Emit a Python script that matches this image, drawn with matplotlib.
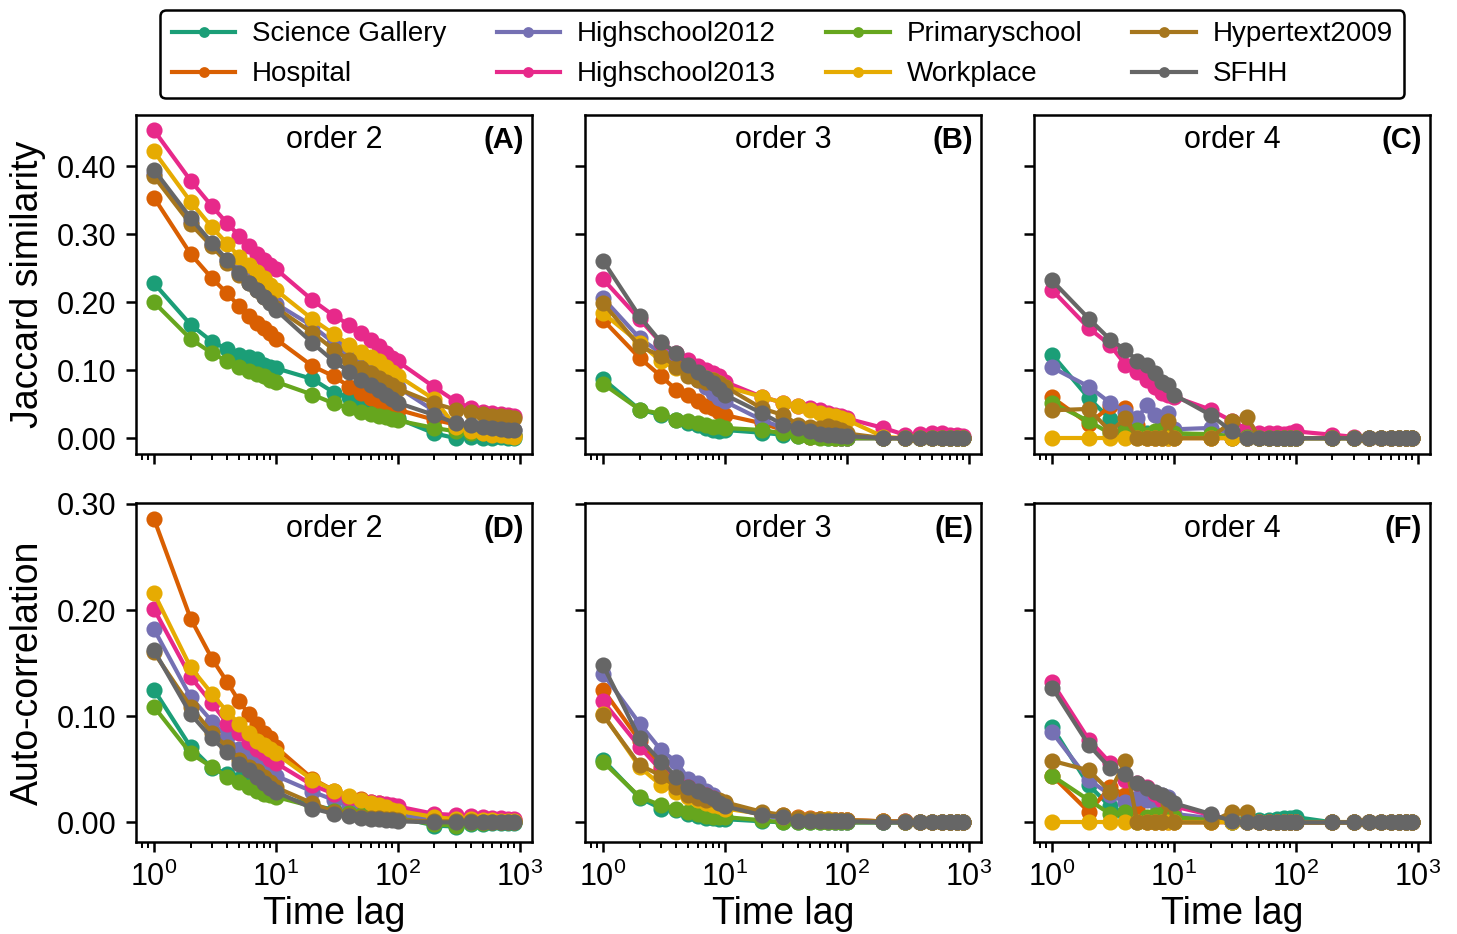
import matplotlib
matplotlib.use("Agg")
import matplotlib.pyplot as plt
from matplotlib.ticker import MultipleLocator, FormatStrFormatter

plt.rcParams['font.family'] = ['Liberation Sans', 'DejaVu Sans']
plt.rcParams['mathtext.fontset'] = 'custom'
plt.rcParams['mathtext.rm'] = 'Liberation Sans'
plt.rcParams['mathtext.it'] = 'Liberation Sans:italic'
plt.rcParams['mathtext.bf'] = 'Liberation Sans:bold'

# ---------------------------------------------------------------------------
# data
# ---------------------------------------------------------------------------
lags = [1, 2, 3, 4, 5, 6, 7, 8, 9, 10,
        20, 30, 40, 50, 60, 70, 80, 90, 100,
        200, 300, 400, 500, 600, 700, 800, 900]

names = ["Science Gallery", "Hospital", "Highschool2012", "Highschool2013",
         "Primaryschool", "Workplace", "Hypertext2009", "SFHH"]
colors = ['#1b9e77', '#d95f02', '#7570b3', '#e7298a',
          '#66a61e', '#e6ab02', '#a6761d', '#666666']

Z = [0.0] * 8  # tail of zeros (lags 200..900)

# Jaccard similarity, order 2
jac2 = {
    "Science Gallery": [0.228, 0.167, 0.142, 0.131, 0.123, 0.120, 0.116, 0.108, 0.105, 0.103,
                        0.087, 0.067, 0.060, 0.054, 0.049, 0.044, 0.039, 0.034, 0.029,
                        0.007, 0.000, 0.001, 0.000, 0.000, 0.001, 0.000, 0.000],
    "Hospital": [0.354, 0.271, 0.235, 0.213, 0.194, 0.179, 0.169, 0.162, 0.154, 0.146,
                 0.106, 0.091, 0.076, 0.066, 0.059, 0.054, 0.049, 0.046, 0.042,
                 0.027, 0.020, 0.015, 0.012, 0.010, 0.008, 0.006, 0.005],
    "Highschool2012": [0.388, 0.318, 0.284, 0.262, 0.246, 0.235, 0.225, 0.215, 0.205, 0.198,
                       0.165, 0.140, 0.122, 0.110, 0.101, 0.094, 0.087, 0.080, 0.075,
                       0.040, 0.022, 0.018, 0.016, 0.015, 0.014, 0.013, 0.012],
    "Highschool2013": [0.453, 0.379, 0.341, 0.316, 0.298, 0.283, 0.271, 0.262, 0.255, 0.249,
                       0.203, 0.180, 0.167, 0.155, 0.145, 0.135, 0.125, 0.118, 0.113,
                       0.075, 0.054, 0.044, 0.039, 0.037, 0.035, 0.034, 0.032],
    "Primaryschool": [0.200, 0.146, 0.125, 0.113, 0.105, 0.099, 0.094, 0.091, 0.086, 0.083,
                      0.064, 0.051, 0.044, 0.039, 0.036, 0.033, 0.031, 0.028, 0.026,
                      0.015, 0.010, 0.008, 0.007, 0.006, 0.006, 0.005, 0.005],
    "Workplace": [0.422, 0.348, 0.310, 0.286, 0.267, 0.255, 0.244, 0.235, 0.226, 0.218,
                  0.175, 0.153, 0.137, 0.127, 0.120, 0.113, 0.105, 0.098, 0.092,
                  0.057, 0.017, 0.010, 0.008, 0.005, 0.004, 0.003, 0.002],
    "Hypertext2009": [0.385, 0.315, 0.282, 0.258, 0.240, 0.228, 0.218, 0.208, 0.200, 0.192,
                      0.155, 0.130, 0.115, 0.103, 0.096, 0.088, 0.083, 0.078, 0.073,
                      0.051, 0.042, 0.039, 0.035, 0.033, 0.032, 0.031, 0.030],
    "SFHH": [0.395, 0.324, 0.287, 0.262, 0.243, 0.229, 0.218, 0.208, 0.199, 0.189,
             0.140, 0.113, 0.098, 0.086, 0.078, 0.071, 0.064, 0.057, 0.052,
             0.034, 0.022, 0.020, 0.017, 0.015, 0.013, 0.012, 0.012],
}

# Jaccard similarity, order 3
jac3 = {
    "Science Gallery": [0.087, 0.042, 0.034, 0.027, 0.022, 0.020, 0.015, 0.012, 0.011, 0.012,
                        0.008, 0.005, 0.003, 0.001, 0.001, 0.0, 0.0, 0.0, 0.0] + Z,
    "Hospital": [0.174, 0.118, 0.091, 0.071, 0.064, 0.054, 0.047, 0.044, 0.039, 0.034,
                 0.022, 0.012, 0.005, 0.002, 0.001, 0.001, 0.0, 0.0, 0.0] + Z,
    "Highschool2012": [0.206, 0.147, 0.125, 0.110, 0.096, 0.086, 0.076, 0.067, 0.059, 0.054,
                       0.027, 0.015, 0.007, 0.003, 0.002, 0.001, 0.001, 0.0, 0.0] + Z,
    "Highschool2013": [0.234, 0.175, 0.140, 0.125, 0.115, 0.106, 0.100, 0.096, 0.091, 0.083,
                       0.061, 0.052, 0.047, 0.044, 0.042, 0.037, 0.034, 0.032, 0.029,
                       0.015, 0.005, 0.006, 0.008, 0.007, 0.005, 0.004, 0.003],
    "Primaryschool": [0.080, 0.042, 0.036, 0.027, 0.025, 0.022, 0.020, 0.017, 0.018, 0.015,
                      0.012, 0.007, 0.003, 0.001, 0.0, 0.0, 0.0, 0.0, 0.0] + Z,
    "Workplace": [0.184, 0.140, 0.113, 0.103, 0.096, 0.091, 0.088, 0.086, 0.081, 0.076,
                  0.061, 0.052, 0.047, 0.042, 0.037, 0.034, 0.033, 0.029, 0.027,
                  0.002, 0.0, 0.0, 0.0, 0.0, 0.0, 0.0, 0.0],
    "Hypertext2009": [0.199, 0.135, 0.121, 0.105, 0.091, 0.086, 0.083, 0.085, 0.081, 0.076,
                      0.044, 0.034, 0.020, 0.017, 0.015, 0.018, 0.015, 0.012, 0.007] + Z,
    "SFHH": [0.261, 0.179, 0.141, 0.126, 0.108, 0.098, 0.088, 0.081, 0.072, 0.064,
             0.037, 0.020, 0.015, 0.010, 0.006, 0.005, 0.004, 0.003, 0.003] + Z,
}

# Jaccard similarity, order 4
jac4 = {
    "Science Gallery": [0.123, 0.059, 0.028, 0.011, 0.008, 0.007, 0.006, 0.007, 0.008, 0.007,
                        0.005, 0.0, 0.0, 0.0, 0.0, 0.0, 0.0, 0.0, 0.0] + Z,
    "Hospital": [0.060, 0.021, 0.047, 0.044, 0.020, 0.0, 0.0, 0.0, 0.0, 0.0,
                 0.0, 0.0, 0.0, 0.0, 0.0, 0.0, 0.0, 0.0, 0.0] + Z,
    "Highschool2012": [0.104, 0.076, 0.052, 0.039, 0.029, 0.049, 0.034, 0.027, 0.037, 0.013,
                       0.015, 0.007, 0.0, 0.0, 0.0, 0.0, 0.0, 0.0, 0.0] + Z,
    "Highschool2013": [0.218, 0.162, 0.137, 0.108, 0.098, 0.086, 0.076, 0.066, 0.064, 0.061,
                       0.042, 0.025, 0.013, 0.008, 0.007, 0.007, 0.006, 0.007, 0.010,
                       0.005, 0.002, 0.0, 0.0, 0.0, 0.0, 0.0, 0.0],
    "Primaryschool": [0.052, 0.025, 0.007, 0.010, 0.012, 0.005, 0.010, 0.012, 0.010, 0.007,
                      0.006, 0.003, 0.002, 0.0, 0.0, 0.0, 0.0, 0.0, 0.0] + Z,
    "Workplace": [0.0] * 19 + Z,
    "Hypertext2009": [0.041, 0.043, 0.010, 0.029, 0.0, 0.0, 0.0, 0.0, 0.025, 0.0,
                      0.0, 0.025, 0.031, 0.0, 0.0, 0.0, 0.0, 0.0, 0.0] + Z,
    "SFHH": [0.232, 0.176, 0.145, 0.130, 0.114, 0.108, 0.096, 0.083, 0.078, 0.064,
             0.034, 0.010, 0.0, 0.0, 0.0, 0.0, 0.0, 0.0, 0.0] + Z,
}

# Auto-correlation, order 2
ac2 = {
    "Science Gallery": [0.125, 0.071, 0.051, 0.046, 0.041, 0.038, 0.033, 0.030, 0.027, 0.026,
                        0.016, 0.012, 0.010, 0.008, 0.007, 0.006, 0.006, 0.005, 0.005,
                        -0.003, -0.004, -0.002, -0.002, -0.001, -0.001, -0.001, -0.001],
    "Hospital": [0.286, 0.192, 0.154, 0.132, 0.114, 0.102, 0.093, 0.084, 0.079, 0.071,
                 0.041, 0.030, 0.024, 0.022, 0.019, 0.018, 0.016, 0.015, 0.013,
                 0.007, 0.005, 0.004, 0.004, 0.003, 0.003, 0.002, 0.002],
    "Highschool2012": [0.182, 0.118, 0.095, 0.080, 0.069, 0.063, 0.057, 0.052, 0.048, 0.044,
                       0.029, 0.021, 0.015, 0.012, 0.010, 0.009, 0.008, 0.008, 0.007,
                       0.003, 0.002, 0.002, 0.001, 0.001, 0.001, 0.001, 0.001],
    "Highschool2013": [0.201, 0.137, 0.112, 0.093, 0.084, 0.076, 0.069, 0.065, 0.060, 0.056,
                       0.035, 0.027, 0.023, 0.021, 0.019, 0.018, 0.017, 0.016, 0.015,
                       0.008, 0.007, 0.006, 0.005, 0.004, 0.004, 0.003, 0.003],
    "Primaryschool": [0.109, 0.065, 0.052, 0.043, 0.038, 0.033, 0.030, 0.027, 0.026, 0.024,
                      0.015, 0.011, 0.009, 0.007, 0.006, 0.005, 0.005, 0.004, 0.004,
                      -0.002, -0.003, -0.001, -0.001, 0.0, 0.0, 0.0, 0.0],
    "Workplace": [0.216, 0.146, 0.121, 0.104, 0.093, 0.084, 0.077, 0.073, 0.069, 0.065,
                  0.040, 0.030, 0.025, 0.021, 0.018, 0.016, 0.014, 0.012, 0.011,
                  0.005, 0.003, 0.003, 0.002, 0.002, 0.001, 0.001, 0.001],
    "Hypertext2009": [0.160, 0.109, 0.084, 0.071, 0.059, 0.052, 0.048, 0.043, 0.038, 0.033,
                      0.018, 0.010, 0.007, 0.005, 0.004, 0.004, 0.003, 0.003, 0.002,
                      0.001, 0.001, 0.001, 0.0, 0.0, 0.0, 0.0, 0.0],
    "SFHH": [0.162, 0.102, 0.079, 0.066, 0.055, 0.049, 0.043, 0.037, 0.032, 0.029,
             0.013, 0.008, 0.006, 0.004, 0.003, 0.003, 0.002, 0.002, 0.001] + Z,
}

# Auto-correlation, order 3
ac3 = {
    "Science Gallery": [0.059, 0.023, 0.013, 0.012, 0.008, 0.006, 0.004, 0.004, 0.003, 0.003,
                        0.001, 0.0, 0.0, 0.0, 0.0, 0.0, 0.0, 0.0, 0.0] + Z,
    "Hospital": [0.125, 0.077, 0.052, 0.040, 0.033, 0.027, 0.024, 0.021, 0.019, 0.018,
                 0.008, 0.007, 0.005, 0.004, 0.003, 0.003, 0.002, 0.002, 0.002,
                 0.001, 0.0, 0.0, 0.0, 0.0, 0.0, 0.0, 0.0],
    "Highschool2012": [0.140, 0.093, 0.068, 0.057, 0.041, 0.037, 0.030, 0.026, 0.019, 0.016,
                       0.007, 0.003, 0.002, 0.001, 0.001, 0.0, 0.0, 0.0, 0.0] + Z,
    "Highschool2013": [0.114, 0.071, 0.049, 0.040, 0.033, 0.029, 0.026, 0.023, 0.019, 0.016,
                       0.008, 0.005, 0.004, 0.003, 0.003, 0.002, 0.002, 0.002, 0.002,
                       0.001, 0.001, 0.0, 0.0, 0.0, 0.0, 0.0, 0.0],
    "Primaryschool": [0.057, 0.024, 0.016, 0.013, 0.010, 0.008, 0.006, 0.005, 0.005, 0.005,
                      0.002, 0.0, 0.0, 0.0, 0.0, 0.0, 0.0, 0.0, 0.0] + Z,
    "Workplace": [0.102, 0.052, 0.035, 0.029, 0.024, 0.021, 0.018, 0.016, 0.015, 0.013,
                  0.008, 0.005, 0.004, 0.003, 0.003, 0.003, 0.002, 0.002, 0.002,
                  0.001, 0.0, 0.0, 0.0, 0.0, 0.0, 0.0, 0.0],
    "Hypertext2009": [0.101, 0.054, 0.044, 0.033, 0.026, 0.023, 0.021, 0.022, 0.021, 0.019,
                      0.010, 0.007, 0.004, 0.003, 0.003, 0.002, 0.002, 0.002, 0.002,
                      0.001, 0.001, 0.0, 0.0, 0.0, 0.0, 0.0, 0.0],
    "SFHH": [0.148, 0.079, 0.057, 0.043, 0.033, 0.030, 0.026, 0.023, 0.018, 0.015,
             0.007, 0.005, 0.001, 0.001, 0.001, 0.001, 0.001, 0.001, 0.001] + Z,
}

# Auto-correlation, order 4
ac4 = {
    "Science Gallery": [0.090, 0.035, 0.015, 0.008, 0.004, 0.003, 0.003, 0.003, 0.003, 0.003,
                        0.003, 0.002, 0.002, 0.002, 0.002, 0.003, 0.004, 0.004, 0.005] + Z,
    "Hospital": [0.044, 0.010, 0.033, 0.026, 0.013, 0.0, 0.0, 0.0, 0.0, 0.0,
                 0.0, 0.0, 0.0, 0.0, 0.0, 0.0, 0.0, 0.0, 0.0] + Z,
    "Highschool2012": [0.085, 0.040, 0.026, 0.019, 0.023, 0.021, 0.019, 0.026, 0.024, 0.008,
                       0.004, 0.0, 0.0, 0.0, 0.0, 0.0, 0.0, 0.0, 0.0] + Z,
    "Highschool2013": [0.132, 0.078, 0.056, 0.040, 0.037, 0.033, 0.027, 0.021, 0.018, 0.015,
                       0.007, 0.001, 0.0, 0.0, 0.0, 0.0, 0.0, 0.0, 0.0] + Z,
    "Primaryschool": [0.044, 0.021, 0.008, 0.010, 0.0, 0.005, 0.007, 0.008, 0.010, 0.005,
                      0.002, 0.0, 0.0, 0.0, 0.0, 0.0, 0.0, 0.0, 0.0] + Z,
    "Workplace": [0.0] * 19 + Z,
    "Hypertext2009": [0.058, 0.049, 0.029, 0.058, 0.0, 0.0, 0.0, 0.0, 0.018, 0.0,
                      0.0, 0.010, 0.010, 0.0, 0.0, 0.0, 0.0, 0.0, 0.0] + Z,
    "SFHH": [0.127, 0.073, 0.051, 0.046, 0.037, 0.032, 0.029, 0.026, 0.022, 0.018,
             0.008, 0.001, 0.0, 0.0, 0.0, 0.0, 0.0, 0.0, 0.0] + Z,
}

panels = [[jac2, jac3, jac4], [ac2, ac3, ac4]]
orders = ["order 2", "order 3", "order 4"]
letters = [["(A)", "(B)", "(C)"], ["(D)", "(E)", "(F)"]]
row_labels = ["Jaccard similarity", "Auto-correlation"]

# ---------------------------------------------------------------------------
# figure
# ---------------------------------------------------------------------------
fig, axes = plt.subplots(2, 3, figsize=(7.285, 4.67), dpi=200,
                         sharex=True, sharey='row')
fig.subplots_adjust(left=0.0933, right=0.9815, top=0.877, bottom=0.0985,
                    wspace=0.134, hspace=0.147)

for r in range(2):
    for c in range(3):
        ax = axes[r, c]
        data = panels[r][c]
        for name, col in zip(names, colors):
            ax.plot(lags, data[name], '-o', color=col, lw=1.5, ms=4.8,
                    label=name)
        ax.set_xscale('log')
        ax.text(0.5, 0.925, orders[c], transform=ax.transAxes,
                ha='center', va='center', fontsize=11)
        ax.text(0.98, 0.925, letters[r][c], transform=ax.transAxes,
                ha='right', va='center', fontsize=10.5, fontweight='bold')
        ax.yaxis.set_major_locator(MultipleLocator(0.1))
        ax.yaxis.set_major_formatter(FormatStrFormatter('%.2f'))
        ax.tick_params(labelsize=11, width=0.9)
        ax.tick_params(which='minor', width=0.7)
        for sp in ax.spines.values():
            sp.set_linewidth(0.9)
    axes[r, 0].set_ylabel(row_labels[r], fontsize=13.5)

for c in range(3):
    axes[1, c].set_xlabel("Time lag", fontsize=13.5, labelpad=1)

handles, labels = axes[0, 0].get_legend_handles_labels()
leg = fig.legend(handles, labels, loc='upper center', ncol=4,
                 bbox_to_anchor=(0.537, 0.989), borderaxespad=0, fontsize=10,
                 handlelength=2.3, handletextpad=0.6, columnspacing=1.8,
                 markerscale=0.6, framealpha=1, edgecolor='black')
leg.get_frame().set_linewidth(0.9)

plt.savefig("out.png", dpi=200)
